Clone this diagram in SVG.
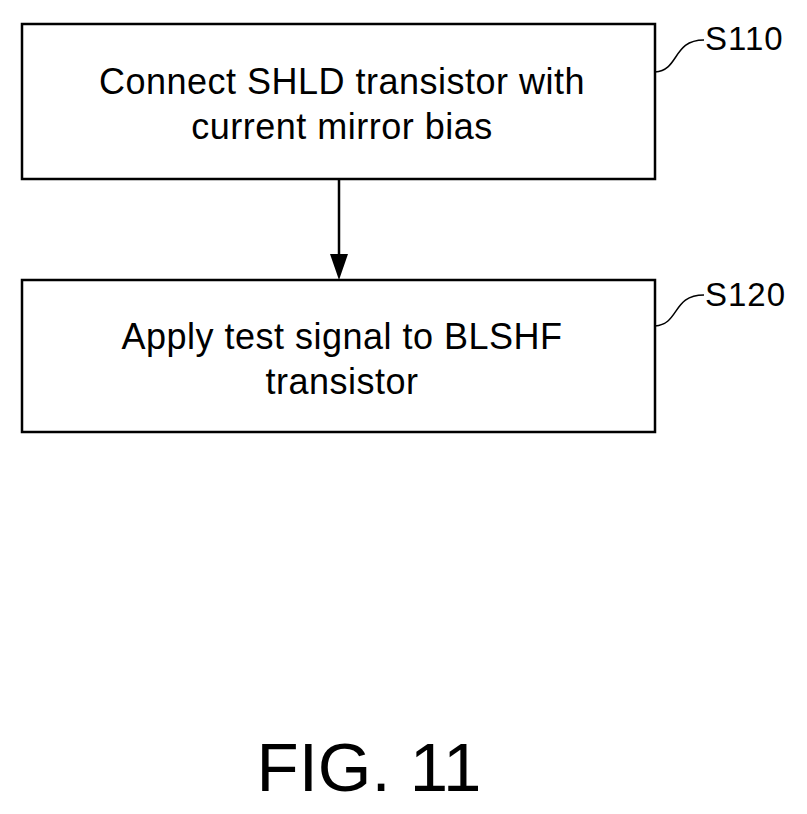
<svg xmlns="http://www.w3.org/2000/svg" width="807" height="814" viewBox="0 0 807 814">
<style>.b{fill:#fff;stroke:#000;stroke-width:2.5}.t{font-family:"Liberation Sans",Arial,sans-serif;font-size:36px;text-anchor:middle;letter-spacing:0.5px}.l{font-family:"Liberation Sans",Arial,sans-serif;font-size:33px;letter-spacing:1px}.c{fill:none;stroke:#000;stroke-width:1.5}</style>
<rect width="807" height="814" fill="#fff"/>
<g id="s110"><rect class="b" x="22" y="24" width="633" height="155"/><text class="t" x="342" y="94">Connect SHLD transistor with</text><text class="t" x="342" y="139">current mirror bias</text><path class="c" d="M655,72 C680,70 672,40 704,40"/><text class="l" x="705" y="50">S110</text></g>
<g id="s120"><rect class="b" x="22" y="280" width="633" height="152"/><text class="t" x="342" y="349">Apply test signal to BLSHF</text><text class="t" x="342" y="394">transistor</text><path class="c" d="M655,326 C680,324 672,295 704,295"/><text class="l" x="705" y="306">S120</text></g>
<g id="connectors"><line x1="339" y1="179" x2="339" y2="256" stroke="#000" stroke-width="2.5"/><path d="M330,254 L348,254 L339,280 Z"/></g>
<text x="369" y="791" font-family="Liberation Sans,Arial,sans-serif" font-size="69" text-anchor="middle">FIG. 11</text>
</svg>
